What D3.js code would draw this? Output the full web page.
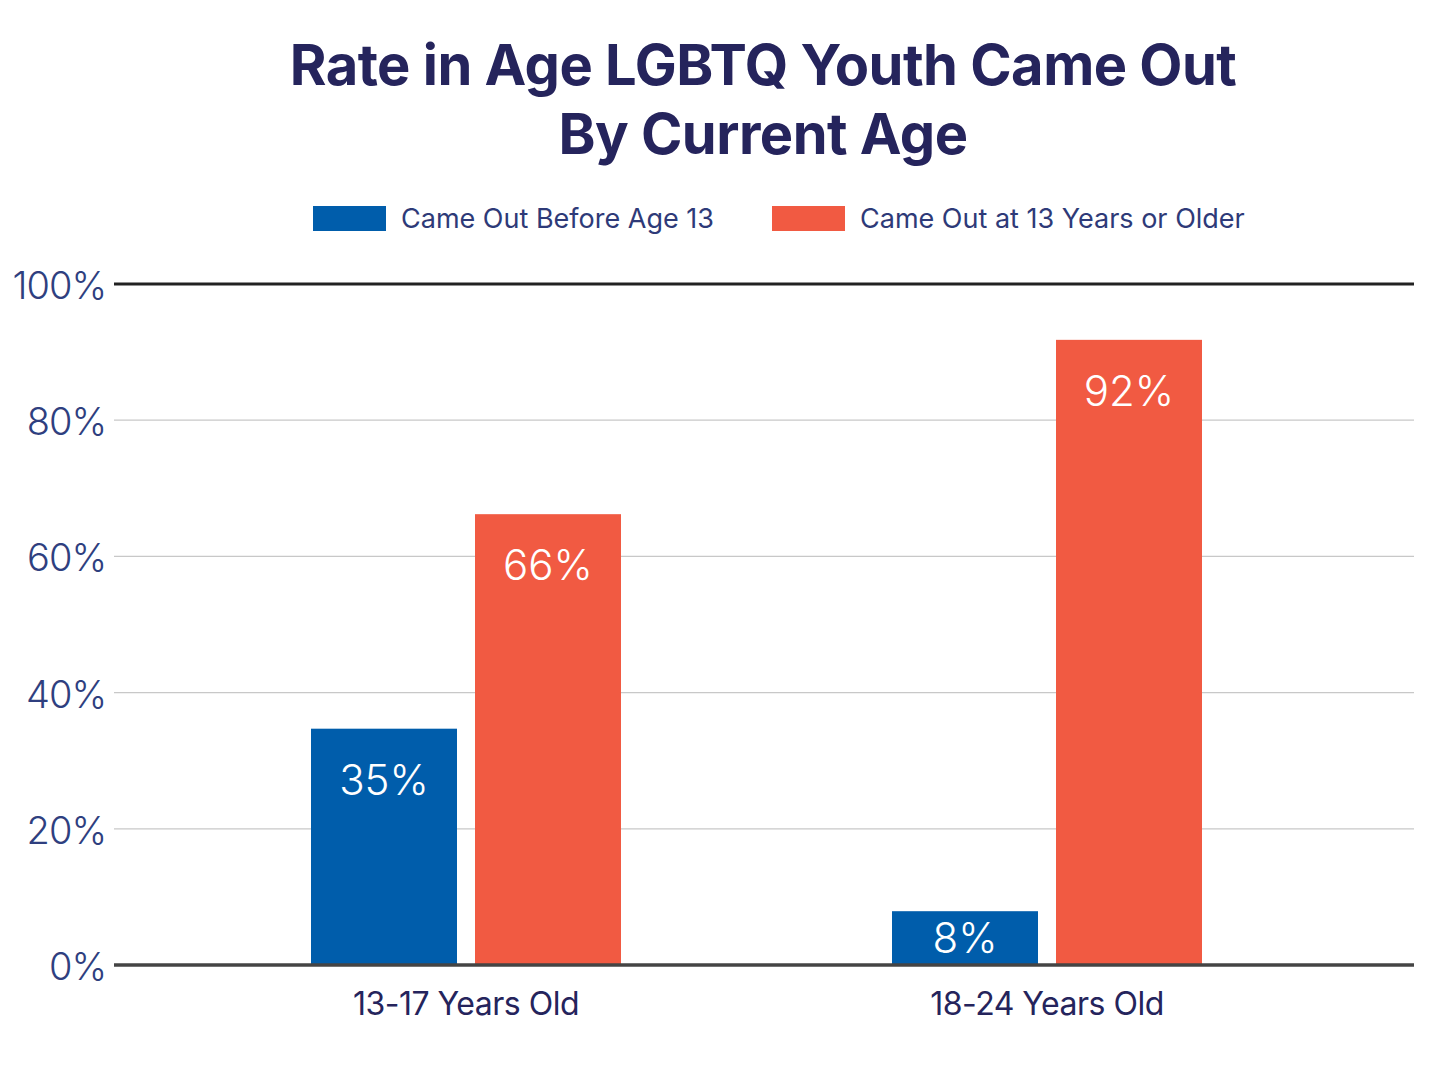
<!DOCTYPE html>
<html><head><meta charset="utf-8">
<script src="https://cdn.jsdelivr.net/npm/d3@7"></script>
<style>html,body{margin:0;padding:0;background:#fff;}svg{display:block;}</style>
</head><body>
<svg id="chart" width="1440" height="1080"></svg>
<script>
const categories = ["13-17 Years Old", "18-24 Years Old"];
const seriesNames = ["Came Out Before Age 13", "Came Out at 13 Years or Older"];
const beforeAge13 = [34.7, 7.9];
const age13OrOlder = [66.2, 91.8];
const valueLabels = [["35%", "66%"], ["8%", "92%"]];
const yTicks = [0, 20, 40, 60, 80, 100];
const colors = ["#005dab", "#f15a42"];

const svg = d3.select("#chart");
const navy = "#25245c";
const tickColor = "#2f3f7f";

const y = d3.scaleLinear().domain([0, 100]).range([965, 284]);
const x0 = d3.scaleBand().domain(categories).range([311, 1202]).paddingInner(271/581).paddingOuter(0);
const x1 = d3.scaleBand().domain(seriesNames).range([0, x0.bandwidth()]).paddingInner(18/164);
const color = d3.scaleOrdinal().domain(seriesNames).range(colors);

// Title
svg.append("text").attr("x", 763).attr("y", 85).attr("text-anchor", "middle")
  .attr("font-family", "Inter, 'Noto Sans', sans-serif").attr("font-weight", 700)
  .attr("font-size", 56).attr("fill", navy).attr("letter-spacing", -0.5)
  .text("Rate in Age LGBTQ Youth Came Out");
svg.append("text").attr("x", 763).attr("y", 154).attr("text-anchor", "middle")
  .attr("font-family", "Inter, 'Noto Sans', sans-serif").attr("font-weight", 700)
  .attr("font-size", 56).attr("fill", navy).attr("letter-spacing", -0.5)
  .text("By Current Age");

// Legend
const legendX = [313, 772];
seriesNames.forEach((s, i) => {
  svg.append("rect").attr("x", legendX[i]).attr("y", 206).attr("width", 73).attr("height", 25).attr("fill", color(s));
  svg.append("text").attr("x", legendX[i] + 88).attr("y", 228)
    .attr("font-family", "Inter, 'Noto Sans', sans-serif").attr("font-weight", 400)
    .attr("font-size", 27).attr("fill", "#2e3a78").text(s);
});

// Grid
const yAxis = d3.axisLeft(y).tickValues(yTicks).tickSize(0).tickFormat(d => d + "%");
const gridG = svg.append("g");
gridG.selectAll("line").data(yTicks.filter(d => d > 0 && d < 100)).join("line")
  .attr("x1", 114).attr("x2", 1414).attr("y1", d => y(d)).attr("y2", d => y(d))
  .attr("stroke", "#c8c8c8").attr("stroke-width", 1.2);
svg.append("line").attr("x1", 114).attr("x2", 1414).attr("y1", y(100)).attr("y2", y(100))
  .attr("stroke", "#222").attr("stroke-width", 3);

const ag = svg.append("g").attr("transform", "translate(109,0)").call(yAxis);
ag.select(".domain").remove();
ag.selectAll("text").attr("font-family", "Inter, 'Noto Sans', sans-serif").attr("font-weight", 300)
  .attr("font-size", 38).attr("fill", tickColor).attr("dy", "0.38em").attr("letter-spacing", -1);

// Bars
const data = categories.map((c, i) => ({cat: c, vals: [beforeAge13[i], age13OrOlder[i]], labels: valueLabels[i]}));
const groups = svg.selectAll("g.grp").data(data).join("g").attr("class", "grp")
  .attr("transform", d => `translate(${x0(d.cat)},0)`);
groups.selectAll("rect").data(d => seriesNames.map((s, j) => ({s, v: d.vals[j]}))).join("rect")
  .attr("x", d => x1(d.s)).attr("width", x1.bandwidth())
  .attr("y", d => y(d.v)).attr("height", d => y(0) - y(d.v)).attr("fill", d => color(d.s));
groups.selectAll("text.val").data(d => seriesNames.map((s, j) => ({s, v: d.vals[j], l: d.labels[j]}))).join("text")
  .attr("class", "val")
  .attr("x", d => x1(d.s) + x1.bandwidth() / 2)
  .attr("y", d => Math.min(y(d.v) + 51, (y(d.v) + y(0)) / 2))
  .attr("dy", "0.36em").attr("text-anchor", "middle")
  .attr("font-family", "Inter, 'Noto Sans', sans-serif").attr("font-weight", 300)
  .attr("font-size", 42).attr("fill", "#fff").text(d => d.l);

// Baseline
svg.append("line").attr("x1", 114).attr("x2", 1414).attr("y1", y(0)).attr("y2", y(0))
  .attr("stroke", "#444", ).attr("stroke-width", 3.5);

// X axis labels
const xAxis = d3.axisBottom(x0).tickSize(0);
const xg = svg.append("g").attr("transform", `translate(0,${y(0)})`).call(xAxis);
xg.select(".domain").remove();
xg.selectAll("text").attr("font-family", "Inter, 'Noto Sans', sans-serif").attr("font-weight", 400)
  .attr("font-size", 32).attr("fill", navy).attr("dy", 0).attr("y", 50).attr("letter-spacing", -0.5);
</script>
</body></html>
